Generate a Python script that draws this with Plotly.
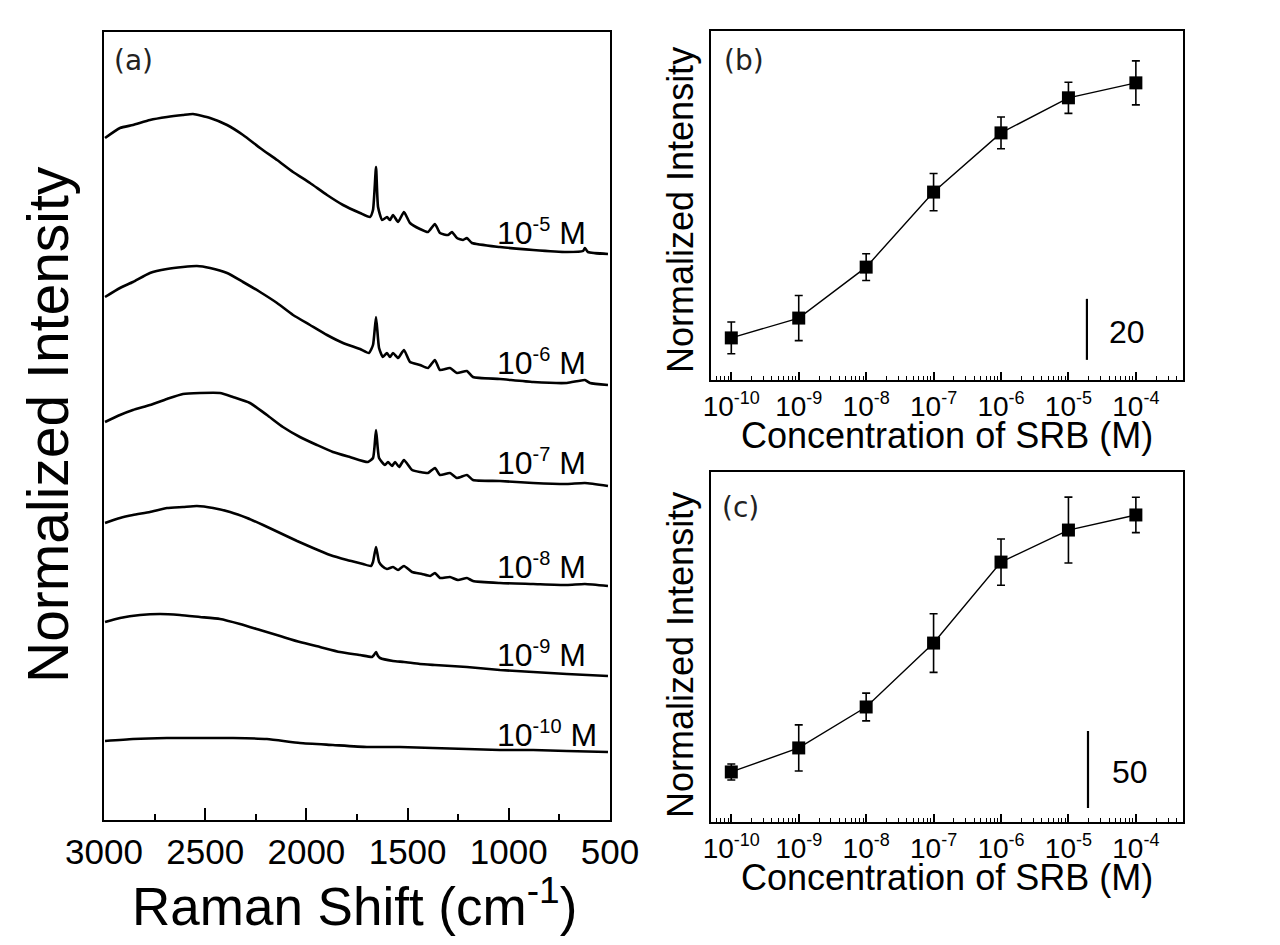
import math
import plotly.graph_objects as go

# the page body has an 8 px margin, so the figure is made 8 px smaller and
# positions below are given in page pixels and shifted by that margin
PAGE_W, PAGE_H, BODY = 1280, 945, 8
W, H = PAGE_W - BODY, PAGE_H - BODY

# ---------------- Panel (a): SERS spectra (offset, arbitrary units) ----------------
shift_5 = [2995, 2921, 2857, 2773, 2689, 2610, 2560, 2476, 2392, 2313, 2229, 2145, 2066, 1982,
           1898, 1819, 1735, 1686, 1671, 1656, 1646, 1626, 1602, 1587, 1572, 1547, 1518, 1488,
           1439, 1399, 1365, 1340, 1300, 1281, 1256, 1226, 1207, 1182, 1044, 880, 713, 633, 624,
           609, 510]
int_5 = [682, 692, 695, 700, 703, 705, 706, 702, 695, 685, 672, 660, 648, 637,
         625, 615, 607, 603, 610, 653, 613, 600, 603, 600, 605, 598, 608, 597,
         591, 588, 596, 587, 585, 588, 582, 580, 582, 577, 573, 570, 568, 569, 572,
         568, 566]

shift_6 = [2995, 2921, 2857, 2773, 2689, 2610, 2541, 2476, 2392, 2313, 2229, 2145, 2066, 1982,
           1898, 1819, 1735, 1691, 1671, 1656, 1641, 1622, 1602, 1587, 1572, 1547, 1518, 1488,
           1439, 1399, 1365, 1340, 1291, 1256, 1207, 1177, 1044, 880, 713, 624, 599, 510]
int_6 = [523, 532, 538, 547, 551, 553, 554, 552, 547, 538, 528, 517, 505, 495,
         485, 477, 471, 467, 475, 503, 472, 463, 467, 463, 467, 462, 470, 458,
         455, 452, 460, 450, 452, 447, 449, 443, 441, 438, 437, 440, 437, 435]

shift_7 = [2995, 2921, 2857, 2773, 2689, 2610, 2526, 2427, 2363, 2279, 2195, 2116, 2032, 1948,
           1869, 1785, 1696, 1671, 1656, 1641, 1612, 1597, 1577, 1562, 1542, 1518, 1478, 1439,
           1399, 1365, 1340, 1291, 1256, 1207, 1177, 1044, 880, 713, 624, 510]
int_7 = [398, 405, 410, 415, 421, 426, 427, 427, 423, 417, 405, 393, 383, 375,
         368, 363, 358, 362, 390, 362, 355, 358, 354, 358, 353, 360, 350, 348,
         347, 352, 345, 347, 342, 345, 340, 339, 337, 336, 337, 334]

shift_8 = [2995, 2921, 2857, 2773, 2689, 2610, 2541, 2461, 2377, 2293, 2214, 2130, 2046, 1967,
           1883, 1799, 1720, 1681, 1671, 1656, 1641, 1626, 1602, 1572, 1547, 1518, 1478, 1429,
           1389, 1365, 1340, 1291, 1251, 1207, 1177, 1044, 880, 713, 624, 510]
int_8 = [297, 302, 305, 308, 312, 313, 314, 312, 308, 302, 295, 287, 279, 272,
         265, 260, 256, 254, 258, 273, 258, 254, 251, 253, 250, 254, 248, 246,
         244, 247, 242, 243, 240, 242, 239, 237, 236, 235, 236, 234]

shift_9 = [2995, 2921, 2822, 2723, 2625, 2526, 2427, 2328, 2229, 2130, 2032, 1933, 1834, 1735,
           1676, 1666, 1656, 1646, 1636, 1572, 1518, 1439, 1365, 1207, 1044, 880, 713, 510]
int_9 = [198, 202, 205, 206, 205, 203, 201, 196, 190, 184, 178, 173, 168, 165,
         163, 165, 168, 164, 162, 159, 158, 156, 155, 153, 150, 148, 146, 144]

shift_10 = [2995, 2857, 2689, 2526, 2363, 2195, 2032, 1869, 1701, 1538, 1375, 1207, 1044, 880,
            713, 510]
int_10 = [79, 81, 82, 82, 82, 81, 77, 75, 73, 73, 72, 71, 70, 70, 69, 68]

spectra = [(shift_5, int_5), (shift_6, int_6), (shift_7, int_7),
           (shift_8, int_8), (shift_9, int_9), (shift_10, int_10)]
spectrum_exps = ["-5", "-6", "-7", "-8", "-9", "-10"]
label_level = [588, 458, 358, 254, 166, 86]   # intensity level of each label
label_shift = 1068                            # Raman shift where labels start

shift_ticks = [3000, 2500, 2000, 1500, 1000, 500]

# ---------------- Panels (b), (c): intensity vs concentration ----------------
conc = [1e-10, 1e-9, 1e-8, 1e-7, 1e-6, 1e-5, 1e-4]
conc_exps = ["-10", "-9", "-8", "-7", "-6", "-5", "-4"]
int_b = [13.8, 20.3, 37.0, 61.6, 81.0, 92.5, 97.4]
err_b = [5.2, 7.4, 4.4, 6.1, 5.2, 5.1, 7.2]
int_c = [32.5, 48.1, 74.7, 116.2, 168.8, 189.6, 199.4]
err_c = [5.2, 15.0, 9.0, 19.0, 15.0, 21.4, 11.5]

scale_b = 20           # scale bar length, panel (b)
scale_b_base = 6.6
scale_b_conc = 1.88e-5
scale_c = 50           # scale bar length, panel (c)
scale_c_base = 9.1
scale_c_conc = 1.95e-5

FONT = "Liberation Sans"


def px(x):
    return (x - BODY) / W


def py(y):
    return 1 - (y - BODY) / H


def pow10(e, sup_px):
    return "10<sup><span style='font-size:%dpx'>%s</span></sup>" % (sup_px, e)


conc_ticktext = [pow10(e, 18) for e in conc_exps]
spectrum_labels = [pow10(e, 20) + " M" for e in spectrum_exps]

fig = go.Figure()

for sx, sy in spectra:
    fig.add_trace(go.Scatter(x=sx, y=sy, mode="lines",
                             line=dict(color="black", width=2.6, shape="spline", smoothing=0.5),
                             xaxis="x", yaxis="y", showlegend=False, hoverinfo="skip"))

for ax, vals, errs, sb, sbase, sconc in [("2", int_b, err_b, scale_b, scale_b_base, scale_b_conc),
                                         ("3", int_c, err_c, scale_c, scale_c_base, scale_c_conc)]:
    fig.add_trace(go.Scatter(
        x=conc, y=vals, mode="lines+markers",
        line=dict(color="black", width=1.4),
        marker=dict(symbol="square", size=13, color="black"),
        error_y=dict(type="data", array=errs, color="black", thickness=1.6, width=4),
        xaxis="x" + ax, yaxis="y" + ax, showlegend=False))
    fig.add_trace(go.Scatter(
        x=[sconc, sconc], y=[sbase, sbase + sb], mode="lines",
        line=dict(color="black", width=2.2), xaxis="x" + ax, yaxis="y" + ax,
        showlegend=False, hoverinfo="skip"))

axis_common = dict(showline=True, mirror=True, linecolor="black", linewidth=2,
                   showgrid=False, zeroline=False, automargin=False)

log_axis = dict(type="log", domain=[px(711), px(1183)],
                range=[math.log10(5e-11), math.log10(5e-4)], tickmode="array",
                tickvals=conc, ticktext=conc_ticktext, ticks="inside", ticklen=8, tickwidth=1.6,
                tickcolor="black",
                minor=dict(ticks="inside", ticklen=4, tickwidth=1.3, dtick="D1",
                           tickcolor="black"),
                tickfont=dict(size=28, family=FONT, color="black"), **axis_common)

fig.update_layout(
    template="none",
    width=W, height=H,
    margin=dict(l=0, r=0, t=0, b=0, pad=0),
    paper_bgcolor="white", plot_bgcolor="white",
    font=dict(family=FONT, color="black"),
    showlegend=False,
    xaxis=dict(domain=[px(104), px(610)], range=[3000, 500], tickmode="array",
               tickvals=shift_ticks, ticks="inside", ticklen=12, tickwidth=2, tickcolor="black",
               minor=dict(ticks="inside", ticklen=6, tickwidth=2, dtick=250, tick0=500,
                          tickcolor="black"),
               tickfont=dict(size=35, family=FONT, color="black"), anchor="y", **axis_common),
    yaxis=dict(domain=[py(820), py(32)], range=[0, 788], showticklabels=False, ticks="",
               anchor="x", **axis_common),
    xaxis2=dict(anchor="y2", **log_axis),
    yaxis2=dict(domain=[py(380), py(31)], range=[0, 114.4], showticklabels=False, ticks="",
                anchor="x2", **axis_common),
    xaxis3=dict(anchor="y3", **log_axis),
    yaxis3=dict(domain=[py(822), py(472)], range=[0, 227.3], showticklabels=False, ticks="",
                anchor="x3", **axis_common),
)

ann = []
# spectrum labels
for lab, lv in zip(spectrum_labels, label_level):
    ann.append(dict(x=label_shift, y=lv, xref="x", yref="y", text=lab, showarrow=False,
                    xanchor="left", yanchor="middle", font=dict(size=32, family=FONT)))
# panel letters
for t, x0, y0 in [("(a)", 112, 60), ("(b)", 722, 60), ("(c)", 720, 507)]:
    ann.append(dict(x=px(x0), y=py(y0), xref="paper", yref="paper", text=t, showarrow=False,
                    xanchor="left", yanchor="middle",
                    font=dict(size=28, family="DejaVu Sans", color="#222")))
# axis titles
ann.append(dict(x=px(48), y=py(425), xref="paper", yref="paper", text="Normalized Intensity",
                showarrow=False, textangle=-90, xanchor="center", yanchor="middle",
                font=dict(size=57, family=FONT)))
ann.append(dict(x=px(354), y=py(902), xref="paper", yref="paper",
                text="Raman Shift (cm<sup>-1</sup>)", showarrow=False,
                xanchor="center", yanchor="middle", font=dict(size=53, family=FONT)))
for yc in [210, 655]:
    ann.append(dict(x=px(680), y=py(yc), xref="paper", yref="paper", text="Normalized Intensity",
                    showarrow=False, textangle=-90, xanchor="center", yanchor="middle",
                    font=dict(size=36, family=FONT)))
for yc in [436, 877]:
    ann.append(dict(x=px(947), y=py(yc), xref="paper", yref="paper",
                    text="Concentration of SRB (M)", showarrow=False,
                    xanchor="center", yanchor="middle", font=dict(size=36, family=FONT)))
# scale bar labels
ann.append(dict(x=px(1127), y=py(332), xref="paper", yref="paper", text=str(scale_b),
                showarrow=False, xanchor="center", yanchor="middle", font=dict(size=32, family=FONT)))
ann.append(dict(x=px(1130), y=py(772), xref="paper", yref="paper", text=str(scale_c),
                showarrow=False, xanchor="center", yanchor="middle", font=dict(size=32, family=FONT)))

fig.update_layout(annotations=ann)

fig.write_html("out.html")
